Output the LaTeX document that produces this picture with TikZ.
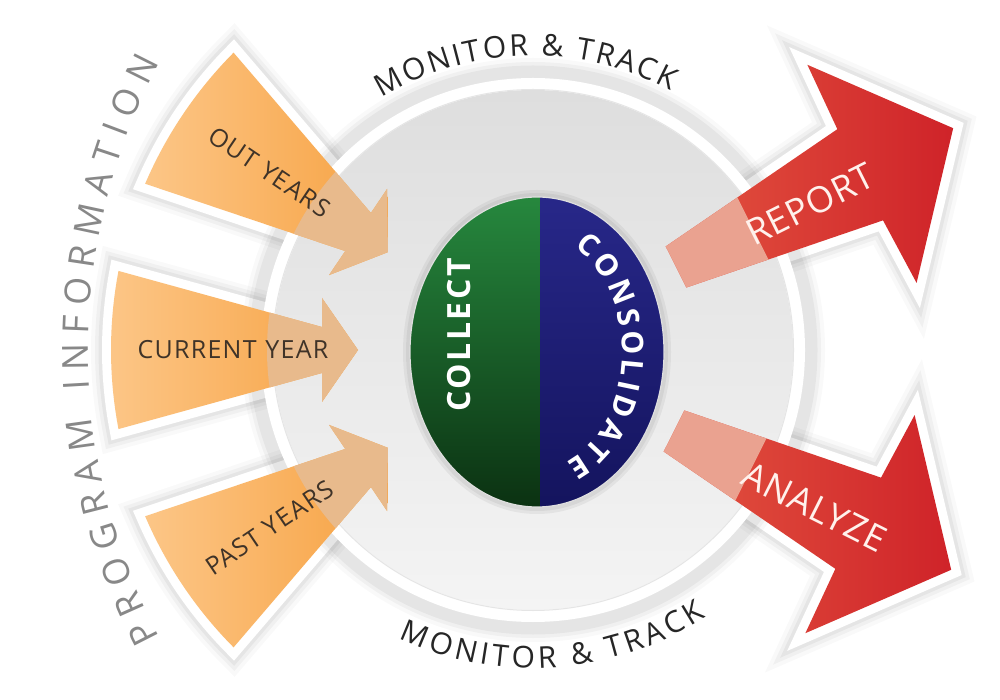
\documentclass[tikz,border=0pt]{standalone}
\usepackage{fontspec}
\setmainfont{Open Sans}
\usetikzlibrary{decorations.text}
\definecolor{orangeL}{HTML}{FCC687}
\definecolor{orangeD}{HTML}{F7A242}
\definecolor{tanC}{HTML}{E8BA8C}
\definecolor{redL}{HTML}{E35440}
\definecolor{redD}{HTML}{CF2329}
\definecolor{pinkT}{HTML}{EAA290}
\definecolor{rtxt}{HTML}{FFF1EC}
\definecolor{grnT}{HTML}{278A3F}
\definecolor{grnB}{HTML}{0A2E10}
\definecolor{navT}{HTML}{28288A}
\definecolor{navB}{HTML}{13135C}
\definecolor{txtD}{HTML}{262626}
\definecolor{txtBr}{HTML}{3F3328}
\definecolor{txtG}{HTML}{888888}
\definecolor{circT}{HTML}{DEDEDE}
\definecolor{circB}{HTML}{F4F4F4}
\begin{document}
\begin{tikzpicture}[x=1pt,y=1pt,
 shadowed/.style={
   preaction={draw=black,draw opacity=0.025,line width=40,line join=miter},
   preaction={draw=black,draw opacity=0.035,line width=32,line join=miter},
   preaction={draw=black,draw opacity=0.045,line width=25,line join=miter}},
 bordered/.style={draw=white,line width=18,line join=miter},
 oshape/.style={insert path={(169.2:422) -- (-211,23) -- (-211,52) -- (-175,0) -- (-211,-52) -- (-211,-23) -- (190.8:422) arc[start angle=190.8,end angle=169.2,radius=422] -- cycle}},
 rshape/.style={insert path={(0,23) -- (206,51) -- (208,122) -- (310,0) -- (208,-122) -- (206,-51) -- (0,-23) -- cycle}},
 otext/.style={transform shape, text=txtBr, font=\fontsize{25}{25}\selectfont\addfontfeatures{LetterSpace=5}},
 rtext/.style={transform shape, text=rtxt, font=\fontsize{36}{36}\selectfont\addfontfeatures{LetterSpace=2}},
]
\useasboundingbox (0,0) rectangle (1000,699);
\fill[white] (0,0) rectangle (1000,699);
\coordinate (C) at (533,349);

% ---- arrow borders and shadows (below the circle)
\foreach \a in {-34,0,34}{
  \begin{scope}[shift={(C)}, rotate=\a]
    \path[shadowed, bordered, fill=orangeD, oshape];
  \end{scope}
}
\begin{scope}[shift={(676,432)}, rotate=26.6]
  \path[shadowed, bordered, fill=redD, rshape];
\end{scope}
\begin{scope}[shift={(674,268)}, rotate=-26.6]
  \path[shadowed, bordered, fill=redD, rshape];
\end{scope}

% ---- big circle
\path[shadowed, fill=white] (C) circle (272);
\shade[top color=circT, bottom color=circB] (C) circle (260);
\draw[black!10, line width=1] (C) circle (260.5);

% ---- arrow bodies
\foreach \a/\t/\r in {-34/OUT\hspace{0.35em}YEARS/-318, 0/CURRENT\hspace{0.35em}YEAR/-300, 34/PAST\hspace{0.35em}YEARS/-318}{
  \begin{scope}[shift={(C)}, rotate=\a]
    \shade[left color=orangeL, right color=orangeD, oshape];
    \begin{scope}
      \clip (0,0) circle (266);
      \fill[tanC, oshape];
    \end{scope}
    \node[otext] at (\r,0) {\t};
  \end{scope}
}
\begin{scope}[shift={(676,432)}, rotate=26.6]
  \shade[left color=redL, right color=redD, rshape];
  \begin{scope}
    \clip (-5,-200) rectangle (86,200);
    \fill[pinkT, rshape];
  \end{scope}
  \node[rtext] (report) at (148,-4) {REPORT};
\end{scope}
\begin{scope}[shift={(674,268)}, rotate=-26.6]
  \shade[left color=redL, right color=redD, rshape];
  \begin{scope}
    \clip (-5,-200) rectangle (86,200);
    \fill[pinkT, rshape];
  \end{scope}
  \node[rtext] (analyze) at (160,-5) {ANALYZE};
\end{scope}

% ---- centre ellipse
\path[preaction={draw=black,draw opacity=0.05,line width=14},
      preaction={draw=black,draw opacity=0.05,line width=8}]
  (537,347) ellipse [x radius=127, y radius=155];
\begin{scope}
  \clip (537,347) ellipse [x radius=127, y radius=155];
  \shade[top color=grnT, bottom color=grnB] (400,180) rectangle (540,510);
  \shade[top color=navT, bottom color=navB] (540,180) rectangle (680,510);
\end{scope}
\draw[white!75!gray, line width=1.2] (537,347) ellipse [x radius=127, y radius=155];

\node[rotate=90, text=white, font=\fontsize{32}{32}\selectfont\bfseries\addfontfeatures{LetterSpace=8}] (collect) at (459,364) {COLLECT};
\path[decorate, decoration={text along path,
   text={|\fontsize{30}{30}\selectfont\bfseries\color{white}|CONSOLIDATE},
   text align={fit to path}}]
  (537,347) ++(64:85 and 117) arc[start angle=64, end angle=-70, x radius=85, y radius=117];

% ---- curved labels
\path[shift={(C)}, decorate, decoration={text along path,
   text={|\fontsize{30}{30}\selectfont\color{txtD}|MONITOR {\&} TRACK},
   text align={fit to path}}]
  (121:294) arc[start angle=121, end angle=62, radius=294];
\path[shift={(C)}, decorate, decoration={text along path,
   text={|\fontsize{30}{30}\selectfont\color{txtD}|MONITOR {\&} TRACK},
   text align={fit to path}}]
  (245:318) arc[start angle=245, end angle=303, radius=318];
\path[shift={(700,349)}, decorate, decoration={text along path,
   text={|\fontsize{36}{36}\selectfont\color{txtG}|PROGRAM INFORMATION},
   text align={fit to path}}]
  (208:612) arc[start angle=208, end angle=152, radius=612];
\end{tikzpicture}
\end{document}
